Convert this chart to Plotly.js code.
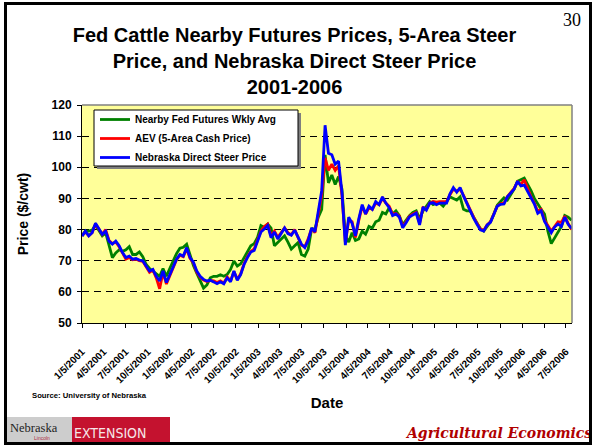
<!DOCTYPE html>
<html>
<head>
<meta charset="utf-8">
<script src="https://cdn.plot.ly/plotly-3.0.1.min.js"></script>
<style>
html,body{margin:0;padding:0;background:#fff;}
#wrap{position:relative;width:592px;height:445px;}
#chart{width:592px;height:445px;}
#frame{position:absolute;left:4px;top:2px;width:582px;height:437px;border:3px solid #000;pointer-events:none;}
</style>
</head>
<body>
<div id="wrap"><div id="chart"></div><div id="frame"></div></div>
<script>
// ---- data (biweekly readings, first week 1/5/2001) ----
const startDate = '2001-01-05';
const stepDays = 14;

const futuresAvg = [
  78, 79.5, 79.5, 79.8, 81.5, 79.5, 78, 79, 75, 71,
  72.5, 73.5, 73, 73.5, 74.5, 72, 72, 72.8, 71.3, 68.8,
  67.5, 66.7, 66, 65, 67.5, 65, 67.5, 70, 72.3, 74,
  74.3, 75.3, 72, 68.5, 66, 63.5, 61.2, 62.2, 64.5, 65,
  65, 65.5, 65, 65.6, 67.2, 69.9, 68.3, 69, 71, 73.2,
  74.8, 75.5, 77.5, 81.3, 80.7, 81.8, 80.5, 74.8, 75.8, 77,
  78, 76, 73.7, 74.8, 75.8, 72, 71.5, 73.7, 80.2, 80.2,
  84, 86.5, 104, 95, 97.5, 94.5, 97, 93, 78, 76,
  79, 76.5, 77, 79.5, 78.5, 81, 80.5, 82.5, 83, 85.5,
  85, 87, 85, 86, 84.5, 81.5, 83, 84.5, 85.5, 86,
  83.5, 86, 87.5, 89, 88, 88.5, 88.5, 87.5, 89, 90.5,
  90, 89.5, 90.5, 86.5, 86, 86, 84, 82, 80.3, 79.5,
  81, 82.5, 85, 87.8, 89, 90.2, 89.5, 91.5, 93, 95.5,
  96, 96.5, 94.5, 92.5, 90, 88, 86.5, 85, 79.5, 75.5,
  77.5, 79.5, 81, 84.5, 84, 83
];

const aevCash = [
  78, 79.3, 78, 79, 81.8, 80, 78.5, 80, 76.5, 75.5,
  76, 74.5, 72.3, 70.5, 71, 70.3, 70.5, 70, 69.8, 68,
  66.3, 67, 64.5, 61, 66.3, 62.5, 65.2, 68, 70.3, 71.8,
  71.3, 73.8, 70.8, 69.3, 66.3, 64.7, 63.8, 63.3, 63.7, 63.5,
  63, 63.5, 62.8, 64.8, 63.5, 66.5, 64, 65.8, 69, 71.3,
  73, 73.8, 76.5, 79.5, 81, 81.8, 78, 79.5, 77.5, 79,
  80.5, 79, 78.3, 80, 77.5, 75, 74.5, 77, 80.3, 79,
  85, 91, 103, 99, 101, 99, 100.5, 91, 76, 83,
  82.5, 77.5, 83, 87.5, 85, 87, 86.5, 88.5, 88, 90,
  88.5, 87.5, 85, 85.2, 84.3, 81, 82.5, 84.3, 85, 85.5,
  82, 87, 86.5, 88.5, 89, 88.8, 89, 89, 89, 91.2,
  93, 92.3, 93, 91, 88.5, 86, 84, 82, 80.2, 79.8,
  81.5, 82.5, 85.3, 87.5, 88.3, 88.5, 90.6, 91.8, 93.2, 95.3,
  94.5, 96, 93, 90.5, 88.5, 85.8, 86.5, 83, 81.3, 79.5,
  81, 82.5, 82.3, 84.3, 82, 80
];

const nebraskaDirect = [
  77.9, 79.5, 78, 79, 82, 80, 78.5, 79.5, 76.3, 75.3,
  76.3, 74.8, 72.6, 71, 71.5, 70.5, 70.7, 70.2, 70, 68.3,
  66.7, 67.2, 65, 63.5, 66.7, 63, 65.6, 68.3, 70.5, 72,
  71.5, 74.2, 71, 69.5, 66.7, 65, 64, 63.5, 63.7, 63.2,
  62.6, 63.2, 62.6, 64.5, 63.2, 66.7, 63.7, 65.5, 68.8, 71,
  72.8, 73.3, 76, 79.2, 80.2, 81.3, 77.4, 79.2, 77, 78.7,
  80.5, 78.7, 78.2, 79.8, 77.6, 75.3, 74.2, 76.5, 80.5, 79.3,
  86, 92.5, 113.5, 104.5, 104, 101, 102, 92, 75, 84,
  82, 78, 83.5, 88, 85, 87.5, 86.5, 89, 88, 90.5,
  88.5, 87, 84.5, 85, 84, 80.6, 82.2, 84, 84.7, 85.3,
  81.5, 87.2, 86.2, 88.5, 88.6, 88, 88.5, 88.5, 88.5, 91.5,
  93.5, 92, 93.5, 90.8, 88.3, 85.6, 83.7, 81.7, 79.9, 79.5,
  81.5, 82.3, 85, 87.5, 88.1, 88.2, 90.5, 91.9, 93, 95.5,
  94, 94.3, 92.2, 90, 88.2, 85.2, 86, 82.6, 81, 79,
  80.8, 81.8, 81, 84, 81.7, 80.4
];

const seriesNames = ['Nearby Fed Futures Wkly Avg', 'AEV (5-Area Cash Price)', 'Nebraska Direct Steer Price'];
const tickLabels = ['1/5/2001','4/5/2001','7/5/2001','10/5/2001','1/5/2002','4/5/2002','7/5/2002','10/5/2002',
  '1/5/2003','4/5/2003','7/5/2003','10/5/2003','1/5/2004','4/5/2004','7/5/2004','10/5/2004',
  '1/5/2005','4/5/2005','7/5/2005','10/5/2005','1/5/2006','4/5/2006','7/5/2006'];
const yTicks = [50, 60, 70, 80, 90, 100, 110, 120];

// ---- derived ----
const t0 = Date.parse(startDate + 'T00:00:00Z');
const dates = nebraskaDirect.map((_, i) => new Date(t0 + i * stepDays * 86400000).toISOString().slice(0, 10));
const tickVals = tickLabels.map(s => {
  const [m, d, y] = s.split('/');
  return y + '-' + m.padStart(2, '0') + '-' + d.padStart(2, '0');
});

const FONT = 'Liberation Sans, Arial, Helvetica, sans-serif';
const W = 592, H = 445, ML = 82, MR = 20, MT = 105, MB = 122;
const PW = W - ML - MR, PH = H - MT - MB;
const px = x => (x - ML) / PW;
const py = y => (H - MB - y) / PH;

const traces = [
  {name: seriesNames[0], y: futuresAvg, color: '#008000'},
  {name: seriesNames[1], y: aevCash, color: '#FF0000'},
  {name: seriesNames[2], y: nebraskaDirect, color: '#0000FF'}
].map(s => ({
  type: 'scatter', mode: 'lines', name: s.name, x: dates, y: s.y,
  line: {color: s.color, width: 2.8}
}));

const layout = {
  width: W, height: H,
  margin: {l: ML, r: MR, t: MT, b: MB, pad: 0},
  paper_bgcolor: '#FFFFFF',
  plot_bgcolor: '#FFFF99',
  font: {family: FONT, color: '#000'},
  title: {
    text: 'Fed Cattle Nearby Futures Prices, 5-Area Steer<br>Price, and Nebraska Direct Steer Price<br>2001-2006',
    font: {family: FONT, size: 20, weight: 'bold', color: '#000'},
    xref: 'container', x: 294.5 / W, xanchor: 'center',
    yref: 'container', y: 1 - 42 / H, yanchor: 'top'
  },
  showlegend: true,
  legend: {
    x: px(95), y: py(105), xanchor: 'left', yanchor: 'top',
    bgcolor: 'rgba(0,0,0,0)', borderwidth: 0,
    font: {family: FONT, size: 10, weight: 'bold', color: '#000'},
    tracegroupgap: 0, itemwidth: 30, traceorder: 'normal'
  },
  xaxis: {
    type: 'date',
    range: ['2001-01-05', '2006-07-30'],
    tickmode: 'array', tickvals: tickVals, ticktext: tickLabels,
    tickangle: -45,
    ticks: 'outside', ticklen: 4, tickcolor: '#000', tickwidth: 1,
    ticklabelstandoff: 14,
    showline: true, linecolor: '#000', linewidth: 1,
    showgrid: false, zeroline: false,
    tickfont: {family: FONT, size: 10, weight: 'bold', color: '#000'},
    title: {text: 'Date', font: {family: FONT, size: 15, weight: 'bold', color: '#000'}, standoff: 13},
    automargin: false, fixedrange: true
  },
  yaxis: {
    range: [50, 120],
    tickmode: 'array', tickvals: yTicks,
    ticks: 'outside', ticklen: 4, tickcolor: '#000', tickwidth: 1,
    ticklabelstandoff: 3,
    showline: true, linecolor: '#000', linewidth: 1,
    showgrid: true, gridcolor: '#000', gridwidth: 1, griddash: '7px,5px',
    zeroline: false,
    tickfont: {family: FONT, size: 12, weight: 'bold', color: '#000'},
    title: {text: 'Price ($/cwt)', font: {family: FONT, size: 14, weight: 'bold', color: '#000'}, standoff: 19},
    automargin: false, fixedrange: true
  },
  shapes: [
    // plot top/right border
    {type: 'line', xref: 'paper', yref: 'paper', x0: 0, x1: 1, y0: 1, y1: 1, line: {color: '#808080', width: 1.5}, layer: 'above'},
    {type: 'line', xref: 'paper', yref: 'paper', x0: 1, x1: 1, y0: 0, y1: 1, line: {color: '#808080', width: 1.5}, layer: 'above'},
    // legend shadow and box
    {type: 'rect', xref: 'paper', yref: 'paper', x0: px(97), x1: px(301), y0: py(169), y1: py(113), fillcolor: '#7F7F7F', line: {width: 0}, layer: 'above'},
    {type: 'rect', xref: 'paper', yref: 'paper', x0: px(94), x1: px(298), y0: py(166), y1: py(110), fillcolor: '#FFFFFF', line: {color: '#000', width: 1}, layer: 'above'},
    // logo boxes
    {type: 'rect', xref: 'paper', yref: 'paper', x0: px(7), x1: px(72), y0: py(442), y1: py(417), fillcolor: '#CDCDCD', line: {width: 0}, layer: 'above'},
    {type: 'rect', xref: 'paper', yref: 'paper', x0: px(72), x1: px(170), y0: py(442), y1: py(417), fillcolor: '#C4122F', line: {width: 0}, layer: 'above'}
  ],
  annotations: [
    {text: '30', xref: 'paper', yref: 'paper', x: px(572), y: py(20), showarrow: false, xanchor: 'center', yanchor: 'middle',
     font: {family: 'Liberation Serif, Times New Roman, serif', size: 18, color: '#000'}},
    {text: 'Source: University of Nebraska', xref: 'paper', yref: 'paper', x: px(30), y: py(395), showarrow: false, xanchor: 'left', yanchor: 'middle',
     font: {family: FONT, size: 7.7, weight: 'bold', color: '#000'}},
    {text: 'Agricultural Economics', xref: 'paper', yref: 'paper', x: px(498), y: py(433), showarrow: false, xanchor: 'center', yanchor: 'middle',
     font: {family: 'DejaVu Serif, serif', size: 14, weight: 'bold', style: 'italic', color: '#B00000'}},
    {text: 'Nebraska', xref: 'paper', yref: 'paper', x: px(34), y: py(428), showarrow: false, xanchor: 'center', yanchor: 'middle',
     font: {family: 'Liberation Serif, Times New Roman, serif', size: 12.5, color: '#222'}},
    {text: 'Lincoln', xref: 'paper', yref: 'paper', x: px(42), y: py(438), showarrow: false, xanchor: 'center', yanchor: 'middle',
     font: {family: FONT, size: 5, color: '#B03040'}},
    {text: 'EXTENSION', xref: 'paper', yref: 'paper', x: px(110), y: py(433), showarrow: false, xanchor: 'center', yanchor: 'middle',
     font: {family: 'DejaVu Sans Condensed, Liberation Sans Narrow, ' + FONT, size: 14, color: '#F6E6E8'}}
  ]
};

Plotly.newPlot('chart', traces, layout, {staticPlot: true, displayModeBar: false});
</script>
</body>
</html>
